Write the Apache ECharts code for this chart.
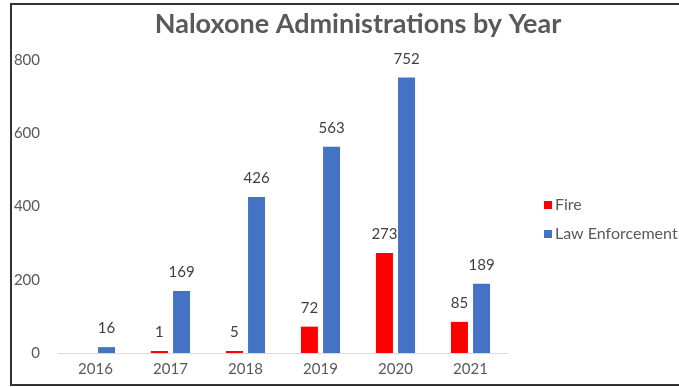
<!DOCTYPE html>
<html>
<head>
<meta charset="utf-8">
<script src="https://cdn.jsdelivr.net/npm/echarts@6/dist/echarts.min.js"></script>
<style>
  html, body { margin: 0; padding: 0; background: #fff; }
  #chart { width: 679px; height: 387px; }
</style>
</head>
<body>
<div id="chart"></div>
<script>
// Naloxone administrations per year, by responding agency
const years = ['2016', '2017', '2018', '2019', '2020', '2021'];
const fire = [null, 1, 5, 72, 273, 85];
const lawEnforcement = [16, 169, 426, 563, 752, 189];
const yTicks = { min: 0, max: 800, interval: 200 };

const FONT = 'Lato, "Open Sans", sans-serif';

const chart = echarts.init(document.getElementById('chart'));

const labelStyle = {
  show: true,
  position: 'top',
  distance: 11,
  color: '#404040',
  fontSize: 15,
  fontFamily: FONT
};

chart.setOption({
  animation: false,
  backgroundColor: '#ffffff',
  title: {
    text: 'Naloxone Administrations by Year',
    left: 353,
    textAlign: 'center',
    top: 6,
    textStyle: {
      color: '#595959',
      fontSize: 27,
      fontWeight: 'bold',
      fontFamily: FONT
    }
  },
  legend: {
    orient: 'vertical',
    left: 539,
    top: 192,
    itemWidth: 8,
    itemHeight: 8,
    itemGap: 13,
    icon: 'rect',
    textStyle: { color: '#595959', fontSize: 16, fontFamily: FONT, padding: [0, 0, 0, -2] },
    data: ['Fire', 'Law Enforcement']
  },
  grid: { left: 58, right: 171, top: 60, bottom: 34 },
  xAxis: {
    type: 'category',
    data: years,
    axisLine: { lineStyle: { color: '#d9d9d9', width: 1 } },
    axisTick: { show: false },
    axisLabel: { color: '#595959', fontSize: 15, fontFamily: FONT, margin: 9 }
  },
  yAxis: {
    type: 'value',
    min: yTicks.min,
    max: yTicks.max,
    interval: yTicks.interval,
    axisLine: { show: false },
    axisTick: { show: false },
    splitLine: { show: false },
    axisLabel: { color: '#595959', fontSize: 15, fontFamily: FONT, margin: 18 }
  },
  series: [
    {
      name: 'Fire',
      type: 'bar',
      data: fire,
      barWidth: 17,
      barGap: '30%',
      barMinHeight: 2,
      itemStyle: { color: '#ff0000' },
      label: labelStyle
    },
    {
      name: 'Law Enforcement',
      type: 'bar',
      data: lawEnforcement,
      barWidth: 17,
      barGap: '30%',
      itemStyle: { color: '#4472c4' },
      label: labelStyle
    }
  ],
  graphic: [
    {
      type: 'rect',
      shape: { x: 11, y: 4, width: 700, height: 381 },
      style: { fill: 'none', stroke: '#333333', lineWidth: 2 },
      silent: true
    }
  ]
});
</script>
</body>
</html>
